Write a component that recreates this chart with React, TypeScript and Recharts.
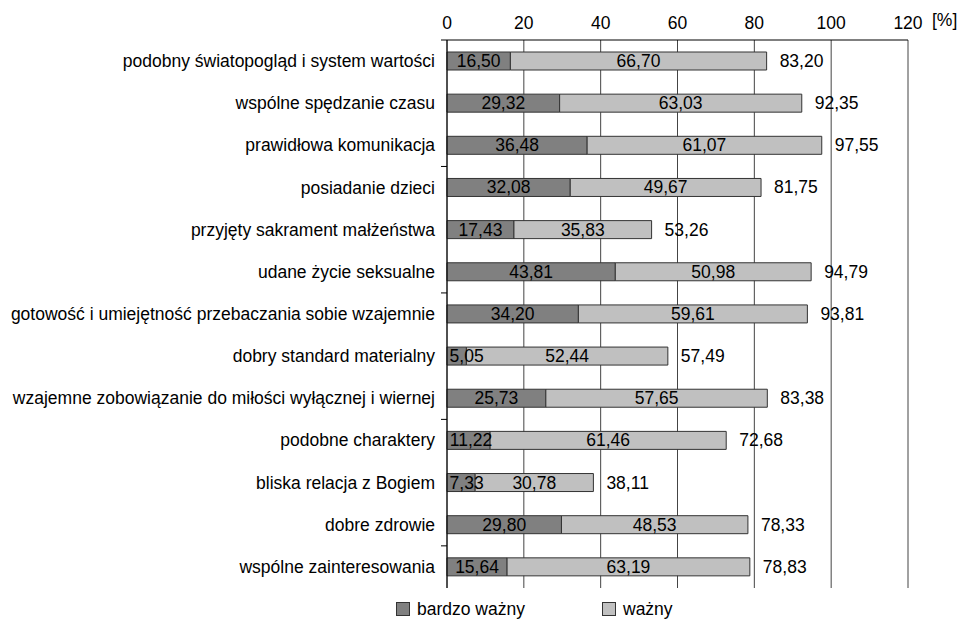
import { Bar, BarChart, CartesianGrid, LabelList, XAxis, YAxis } from 'recharts'

const CHART_WIDTH = 960
const CHART_HEIGHT = 619
const FONT = '"Liberation Sans", Arial, sans-serif'
const FONT_SIZE = 17.5

const categories = [
  'podobny światopogląd i system wartości',
  'wspólne spędzanie czasu',
  'prawidłowa komunikacja',
  'posiadanie dzieci',
  'przyjęty sakrament małżeństwa',
  'udane życie seksualne',
  'gotowość i umiejętność przebaczania sobie wzajemnie',
  'dobry standard materialny',
  'wzajemne zobowiązanie do miłości wyłącznej i wiernej',
  'podobne charaktery',
  'bliska relacja z Bogiem',
  'dobre zdrowie',
  'wspólne zainteresowania',
]
const veryImportant = [16.5, 29.32, 36.48, 32.08, 17.43, 43.81, 34.2, 5.05, 25.73, 11.22, 7.33, 29.8, 15.64]
const important = [66.7, 63.03, 61.07, 49.67, 35.83, 50.98, 59.61, 52.44, 57.65, 61.46, 30.78, 48.53, 63.19]
const totals = [83.2, 92.35, 97.55, 81.75, 53.26, 94.79, 93.81, 57.49, 83.38, 72.68, 38.11, 78.33, 78.83]
const xTicks = [0, 20, 40, 60, 80, 100, 120]

const DARK = '#808080'
const LIGHT = '#c0c0c0'

const data = categories.map((name, i) => ({
  name,
  veryImportant: veryImportant[i],
  important: important[i],
  total: totals[i],
}))

const fmt = (v: number) => v.toFixed(2).replace('.', ',')

// centred in the segment, but never starting left of the bar
function InsideLabel(props: any) {
  const { x, y, width, height, value } = props
  const text = fmt(value)
  const w = text.length * 8.8
  const cx = Math.max(x + width / 2, x + 2 + w / 2)
  return (
    <text x={cx} y={y + height / 2} textAnchor="middle" dominantBaseline="central"
      fontFamily={FONT} fontSize={FONT_SIZE} fill="#000">
      {text}
    </text>
  )
}

function TotalLabel(props: any) {
  const { x, y, width, height, value } = props
  return (
    <text x={x + width + 13} y={y + height / 2} dominantBaseline="central"
      fontFamily={FONT} fontSize={FONT_SIZE} fill="#000">
      {fmt(value)}
    </text>
  )
}

// category label, plus a short tick at the band's upper edge every 3rd row (as in the original)
function CategoryTick(props: any) {
  const { x, y, payload, index } = props
  const axisX = x + 12
  const bandHalf = 42.15 / 2
  return (
    <g>
      {index % 3 === 0 && (
        <line x1={axisX - 6} x2={axisX} y1={y - bandHalf} y2={y - bandHalf} stroke="#000" />
      )}
      <text x={x} y={y} textAnchor="end" dominantBaseline="central"
        fontFamily={FONT} fontSize={FONT_SIZE} fill="#000">
        {payload.value}
      </text>
    </g>
  )
}

function LegendBox({ color, label, left }: { color: string; label: string; left: number }) {
  return (
    <div style={{ position: 'absolute', left, top: 599, height: 20, display: 'flex', alignItems: 'center', fontFamily: FONT, fontSize: FONT_SIZE }}>
      <span style={{ width: 12, height: 12, background: color, border: '1px solid #333', marginRight: 7 }} />
      {label}
    </div>
  )
}

export default function App() {
  return (
    <div style={{ position: 'absolute', left: 0, top: 0, width: CHART_WIDTH, height: CHART_HEIGHT, background: '#fff' }}>
      <BarChart
        width={CHART_WIDTH}
        height={CHART_HEIGHT}
        data={data}
        layout="vertical"
        barSize={18}
        margin={{ top: 0, right: 52, bottom: 31, left: 0 }}
      >
        <CartesianGrid horizontal={false} stroke="#444" />
        <XAxis
          type="number"
          orientation="top"
          domain={[0, 120]}
          ticks={xTicks}
          height={40}
          axisLine={{ stroke: '#000' }}
          tickLine={false}
          tickMargin={5}
          tick={{ fontFamily: FONT, fontSize: FONT_SIZE, fill: '#000' }}
        />
        <YAxis
          type="category"
          dataKey="name"
          width={447}
          axisLine={{ stroke: '#000' }}
          tickLine={false}
          tickMargin={6}
          interval={0}
          tick={<CategoryTick />}
        />
        <Bar dataKey="veryImportant" stackId="a" fill={DARK} stroke="#333" isAnimationActive={false}>
          <LabelList dataKey="veryImportant" content={InsideLabel} />
        </Bar>
        <Bar dataKey="important" stackId="a" fill={LIGHT} stroke="#333" isAnimationActive={false}>
          <LabelList dataKey="important" content={InsideLabel} />
          <LabelList dataKey="total" content={TotalLabel} />
        </Bar>
      </BarChart>
      <div style={{ position: 'absolute', left: 932, top: 10, fontFamily: FONT, fontSize: FONT_SIZE }}>[%]</div>
      <LegendBox color={DARK} label="bardzo ważny" left={396} />
      <LegendBox color={LIGHT} label="ważny" left={602} />
    </div>
  )
}
